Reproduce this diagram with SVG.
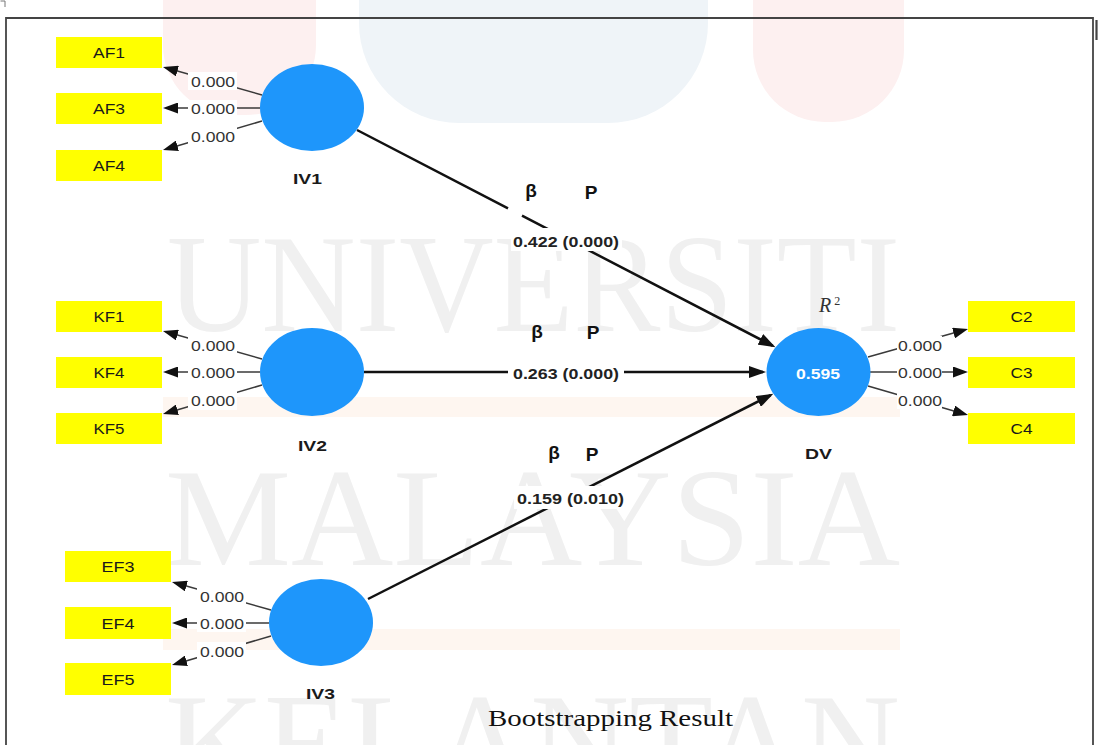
<svg xmlns="http://www.w3.org/2000/svg" width="1104" height="745" viewBox="0 0 1104 745">
  <style>
    .ind { fill: #ffff00; }
    .ind-t { font-family: "Liberation Sans", Arial, sans-serif; font-size: 15px; fill: #1a1a1a; text-anchor: middle; }
    .lv { fill: #1e96fb; }
    .lv-t { font-family: "Liberation Sans", Arial, sans-serif; font-size: 15px; font-weight: bold; fill: #1a1a1a; text-anchor: middle; }
    .load { stroke: #3a3a3a; stroke-width: 1.5; fill: none; marker-end: url(#tipS); }
    .path { stroke: #111; stroke-width: 2.5; fill: none; marker-end: url(#tipL); }
    .bg { fill: #ffffff; }
    .w { font-family: "Liberation Sans", Arial, sans-serif; font-size: 15px; fill: #333; text-anchor: middle; }
    .coef { font-family: "Liberation Sans", Arial, sans-serif; font-size: 15.5px; font-weight: bold; fill: #222; text-anchor: middle; }
    .greek { font-family: "Liberation Sans", "DejaVu Sans", sans-serif; font-size: 19px; font-weight: bold; fill: #111; text-anchor: middle; }
    .mark { font-family: "Liberation Serif", "Times New Roman", serif; font-size: 140px; fill: #f0f0f0; }
  </style>
  <defs>
    <marker id="tipS" viewBox="0 0 15 11" refX="12" refY="5.5" markerWidth="15" markerHeight="11" markerUnits="userSpaceOnUse" orient="auto">
      <path d="M0,0 L15,5.5 L0,11 z" fill="#111"/>
    </marker>
    <marker id="tipL" viewBox="0 0 17 12" refX="14" refY="6" markerWidth="17" markerHeight="12" markerUnits="userSpaceOnUse" orient="auto">
      <path d="M0,0 L17,6 L0,12 z" fill="#111"/>
    </marker>
  </defs>

  <rect width="1104" height="745" fill="#ffffff"/>

  <!-- faint background crest and lettering -->
  <g id="backdrop">
    <path d="M163,0 H316 V45 A70,70 0 0 1 246,115 H233 A70,70 0 0 1 163,45 Z" fill="#fdf0f0"/>
    <path d="M359,0 H708 V23 A100,100 0 0 1 608,123 H459 A100,100 0 0 1 359,23 Z" fill="#eff4f8"/>
    <path d="M753,0 H904 V50 A72,72 0 0 1 832,122 H825 A72,72 0 0 1 753,50 Z" fill="#fdf0f0"/>
    <rect x="163" y="397" width="737" height="20" fill="#fef6f0"/>
    <rect x="163" y="629" width="737" height="21" fill="#fef6f0"/>
    <text class="mark" x="167" y="331" textLength="733" lengthAdjust="spacingAndGlyphs">UNIVERSITI</text>
    <text class="mark" x="165" y="565" textLength="735" lengthAdjust="spacingAndGlyphs">MALAYSIA</text>
    <text class="mark" x="165" y="790" textLength="735" lengthAdjust="spacingAndGlyphs">KELANTAN</text>
  </g>

  <!-- frame -->
  <g id="frame" fill="none" stroke="#444" stroke-width="1.8">
    <path d="M6,745 V18 H1093 V745"/>
    <path d="M0.5,1 H5 V7" stroke-width="1" stroke="#777"/>
    <path d="M1096.5,20 V40" stroke-width="2.2"/>
  </g>

  <!-- connectors -->
  <g id="connectors">
    <!-- IV1 loadings -->
    <line class="load" x1="262" y1="95" x2="165.9" y2="67.8"/>
    <line class="load" x1="260" y1="108" x2="166" y2="108"/>
    <line class="load" x1="262" y1="121" x2="165.9" y2="149.2"/>
    <rect class="bg" x="188" y="72" width="49" height="18"/>
    <rect class="bg" x="188" y="100" width="49" height="17"/>
    <rect class="bg" x="188" y="127" width="49" height="19"/>
    <text class="w" x="213" y="87" textLength="44" lengthAdjust="spacingAndGlyphs">0.000</text>
    <text class="w" x="213" y="114" textLength="44" lengthAdjust="spacingAndGlyphs">0.000</text>
    <text class="w" x="213" y="142" textLength="44" lengthAdjust="spacingAndGlyphs">0.000</text>

    <!-- IV2 loadings -->
    <line class="load" x1="262" y1="359" x2="165.9" y2="331.8"/>
    <line class="load" x1="260" y1="372" x2="166" y2="372"/>
    <line class="load" x1="262" y1="385" x2="165.9" y2="413.2"/>
    <rect class="bg" x="188" y="336" width="49" height="18"/>
    <rect class="bg" x="188" y="364" width="49" height="17"/>
    <rect class="bg" x="188" y="391" width="49" height="19"/>
    <text class="w" x="213" y="351" textLength="44" lengthAdjust="spacingAndGlyphs">0.000</text>
    <text class="w" x="213" y="378" textLength="44" lengthAdjust="spacingAndGlyphs">0.000</text>
    <text class="w" x="213" y="406" textLength="44" lengthAdjust="spacingAndGlyphs">0.000</text>

    <!-- IV3 loadings -->
    <line class="load" x1="271" y1="610" x2="174.9" y2="582.8"/>
    <line class="load" x1="269" y1="623" x2="175" y2="623"/>
    <line class="load" x1="271" y1="636" x2="174.9" y2="664.2"/>
    <rect class="bg" x="197" y="587" width="49" height="18"/>
    <rect class="bg" x="197" y="615" width="49" height="17"/>
    <rect class="bg" x="197" y="642" width="49" height="19"/>
    <text class="w" x="222" y="602" textLength="44" lengthAdjust="spacingAndGlyphs">0.000</text>
    <text class="w" x="222" y="629" textLength="44" lengthAdjust="spacingAndGlyphs">0.000</text>
    <text class="w" x="222" y="657" textLength="44" lengthAdjust="spacingAndGlyphs">0.000</text>

    <!-- DV loadings -->
    <line class="load" x1="868" y1="357" x2="965.1" y2="329.8"/>
    <line class="load" x1="870" y1="372" x2="965" y2="372"/>
    <line class="load" x1="868" y1="386" x2="965.1" y2="414.2"/>
    <rect class="bg" x="897" y="336" width="45" height="19"/>
    <rect class="bg" x="897" y="364" width="45" height="17"/>
    <rect class="bg" x="897" y="390" width="45" height="19"/>
    <text class="w" x="920" y="351" textLength="44" lengthAdjust="spacingAndGlyphs">0.000</text>
    <text class="w" x="920" y="378" textLength="44" lengthAdjust="spacingAndGlyphs">0.000</text>
    <text class="w" x="920" y="406" textLength="44" lengthAdjust="spacingAndGlyphs">0.000</text>

    <!-- structural paths -->
    <path class="path" d="M357,130 L508,208.4 M522,215.7 L772.8,345.8"/>
    <path class="path" d="M364,372 L763,372"/>
    <path class="path" d="M368,599 L770.7,395.1"/>
    <rect class="bg" x="511" y="228" width="111" height="23"/>
    <rect class="bg" x="508" y="362" width="116" height="20"/>
    <rect class="bg" x="514" y="486" width="113" height="23"/>
    <text class="coef" x="566" y="246.5" textLength="106" lengthAdjust="spacingAndGlyphs">0.422 (0.000)</text>
    <text class="coef" x="566" y="378.5" textLength="106" lengthAdjust="spacingAndGlyphs">0.263 (0.000)</text>
    <text class="coef" x="570.5" y="504" textLength="107" lengthAdjust="spacingAndGlyphs">0.159 (0.010)</text>

    <text class="greek" x="531" y="197">β</text>
    <text class="greek" x="591" y="199">P</text>
    <text class="greek" x="537" y="338">β</text>
    <text class="greek" x="593" y="339">P</text>
    <text class="greek" x="554" y="459">β</text>
    <text class="greek" x="592" y="461">P</text>
  </g>

  <!-- indicators -->
  <g id="AF1"><rect class="ind" x="56" y="37" width="106" height="31"/><text class="ind-t" x="109" y="58" textLength="32" lengthAdjust="spacingAndGlyphs">AF1</text></g>
  <g id="AF3"><rect class="ind" x="56" y="93" width="106" height="31"/><text class="ind-t" x="109" y="114" textLength="32" lengthAdjust="spacingAndGlyphs">AF3</text></g>
  <g id="AF4"><rect class="ind" x="56" y="150" width="106" height="31"/><text class="ind-t" x="109" y="171" textLength="32" lengthAdjust="spacingAndGlyphs">AF4</text></g>

  <g id="KF1"><rect class="ind" x="56" y="301" width="106" height="31"/><text class="ind-t" x="109" y="322" textLength="31" lengthAdjust="spacingAndGlyphs">KF1</text></g>
  <g id="KF4"><rect class="ind" x="56" y="357" width="106" height="31"/><text class="ind-t" x="109" y="378" textLength="31" lengthAdjust="spacingAndGlyphs">KF4</text></g>
  <g id="KF5"><rect class="ind" x="56" y="413" width="106" height="31"/><text class="ind-t" x="109" y="434" textLength="31" lengthAdjust="spacingAndGlyphs">KF5</text></g>

  <g id="EF3"><rect class="ind" x="65" y="551" width="106" height="31"/><text class="ind-t" x="118" y="572" textLength="33" lengthAdjust="spacingAndGlyphs">EF3</text></g>
  <g id="EF4"><rect class="ind" x="65" y="607" width="106" height="32"/><text class="ind-t" x="118" y="628.5" textLength="33" lengthAdjust="spacingAndGlyphs">EF4</text></g>
  <g id="EF5"><rect class="ind" x="65" y="663" width="106" height="32"/><text class="ind-t" x="118" y="684.5" textLength="33" lengthAdjust="spacingAndGlyphs">EF5</text></g>

  <g id="C2"><rect class="ind" x="968" y="301" width="107" height="31"/><text class="ind-t" x="1021.5" y="322" textLength="22" lengthAdjust="spacingAndGlyphs">C2</text></g>
  <g id="C3"><rect class="ind" x="968" y="357" width="107" height="31"/><text class="ind-t" x="1021.5" y="378" textLength="22" lengthAdjust="spacingAndGlyphs">C3</text></g>
  <g id="C4"><rect class="ind" x="968" y="413" width="107" height="31"/><text class="ind-t" x="1021.5" y="434" textLength="22" lengthAdjust="spacingAndGlyphs">C4</text></g>

  <!-- latent variables -->
  <g id="IV1"><ellipse class="lv" cx="312" cy="107.5" rx="52" ry="43.5"/><text class="lv-t" x="307.5" y="184" textLength="29" lengthAdjust="spacingAndGlyphs">IV1</text></g>
  <g id="IV2"><ellipse class="lv" cx="312" cy="372" rx="52" ry="44"/><text class="lv-t" x="312.5" y="451" textLength="29" lengthAdjust="spacingAndGlyphs">IV2</text></g>
  <g id="IV3"><ellipse class="lv" cx="321" cy="622.5" rx="52" ry="43.5"/><text class="lv-t" x="320.5" y="699" textLength="29" lengthAdjust="spacingAndGlyphs">IV3</text></g>
  <g id="DV">
    <ellipse class="lv" cx="818.5" cy="372" rx="52" ry="44"/>
    <text class="lv-t" x="818" y="379" style="fill:#ffffff" textLength="44" lengthAdjust="spacingAndGlyphs">0.595</text>
    <text class="lv-t" x="818.5" y="459" textLength="27" lengthAdjust="spacingAndGlyphs">DV</text>
    <text x="819" y="312" font-family="'Liberation Serif', 'Times New Roman', serif" font-size="20" font-style="italic" fill="#333">R<tspan font-style="normal" font-size="12" dx="3" dy="-7">2</tspan></text>
  </g>

  <!-- caption -->
  <text x="610.5" y="725.5" font-family="'Liberation Serif', 'Times New Roman', serif" font-size="23" fill="#111" text-anchor="middle" textLength="245" lengthAdjust="spacingAndGlyphs">Bootstrapping Result</text>
</svg>
